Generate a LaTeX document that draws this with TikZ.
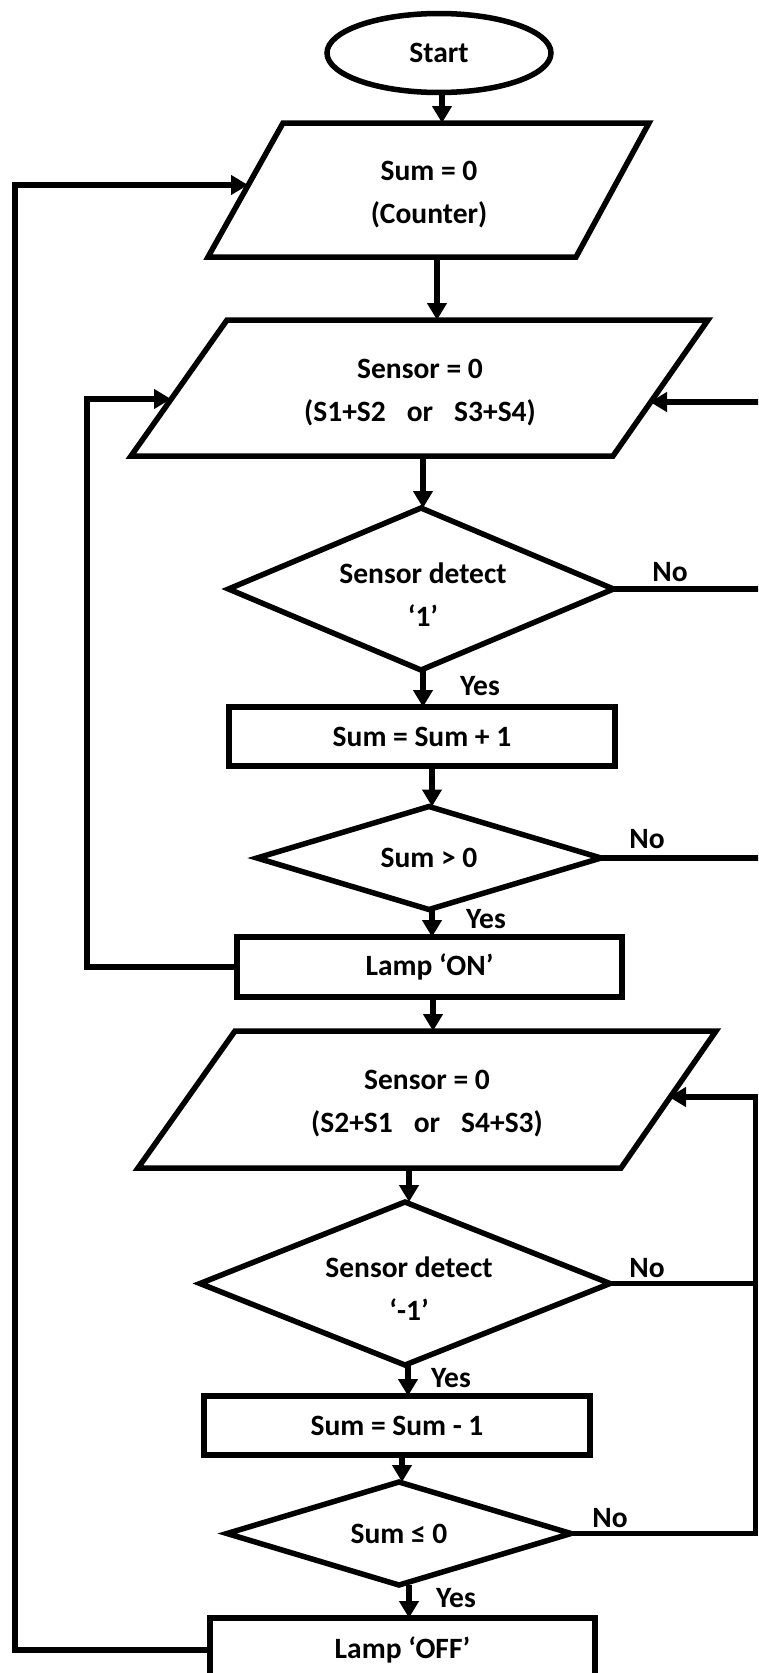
\documentclass[tikz,border=0pt]{standalone}
\usepackage{fontspec}
\setmainfont{Carlito}
\usetikzlibrary{arrows.meta,shapes.geometric,calc}
\begin{document}
\begin{tikzpicture}[x=1pt,y=-1pt,
  every node/.style={font=\fontsize{29.5}{43}\selectfont\bfseries, inner sep=0pt, outer sep=0pt},
  shp/.style={draw, line width=5.5pt, line join=miter},
  box/.style={shp, rectangle},
  dia/.style={shp, diamond},
  term/.style={shp, ellipse},
  para/.style={rectangle, align=center},
  two/.style={align=center},
  arr/.style={line width=5.5pt, -{Triangle[width=19pt,length=17pt]}},
  ln/.style={line width=5.5pt}
]
\useasboundingbox (0,0) rectangle (758,1673);
\fill[white] (0,0) rectangle (758,1673);
\clip (0,0) rectangle (758,1673);

% column / edge coordinates
\coordinate (eL) at (15,0);
\coordinate (iL) at (87,0);
\coordinate (eR) at (760,0);
\coordinate (eR2) at (755.5,0);
\coordinate (c1) at (442,0);
\coordinate (c2) at (437,0);
\coordinate (c3) at (423,0);
\coordinate (c4) at (432,0);
\coordinate (c5) at (433,0);
\coordinate (c6) at (409,0);
\coordinate (c7) at (408,0);
\coordinate (c8) at (402,0);

% nodes
\node[term, minimum width=224pt, minimum height=79pt] (start) at (439,53) {Start};

\node[para, minimum width=441pt, minimum height=134pt] (p1) at (428.5,190) {};
\node[two] (t1) at (429,195) {Sum = 0\\(Counter)};
\draw[shp] (p1.south west) -- ($(p1.south east)+(-73,0)$) -- (p1.north east) -- ($(p1.north west)+(75,0)$) -- cycle;

\node[para, minimum width=577pt, minimum height=136pt] (p2) at (419.5,388) {};
\node[two] (t2) at (420,393) {Sensor = 0\\(S1+S2\hspace{21pt}or\hspace{21pt}S3+S4)};
\draw[shp] (p2.south west) -- ($(p2.south east)+(-95,0)$) -- (p2.north east) -- ($(p2.north west)+(96,0)$) -- cycle;

\node[dia, minimum width=385pt, minimum height=162pt, aspect=2.4] (d1) at (421,589) {};
\node[two] (t3) at (423,595) {Sensor detect\\‘1’};
\node[box, minimum width=386pt, minimum height=59pt] (b1) at (422,736.5) {Sum = Sum + 1};
\node[dia, minimum width=344pt, minimum height=103pt, aspect=3.3] (d2) at (429,858) {Sum > 0};
\node[box, minimum width=385pt, minimum height=60pt] (b2) at (429.5,967) {Lamp ‘ON’};

\node[para, minimum width=578pt, minimum height=137pt] (p3) at (427,1099.5) {};
\node[two] (t4) at (427,1104) {Sensor = 0\\(S2+S1\hspace{21pt}or\hspace{21pt}S4+S3)};
\draw[shp] (p3.south west) -- ($(p3.south east)+(-95,0)$) -- (p3.north east) -- ($(p3.north west)+(97,0)$) -- cycle;

\node[dia, minimum width=410pt, minimum height=163pt, aspect=2.5] (d3) at (405,1283.5) {};
\node[two] (t5) at (409,1289) {Sensor detect\\‘-1’};
\node[box, minimum width=386pt, minimum height=59pt] (b3) at (397,1425.5) {Sum = Sum - 1};
\node[dia, minimum width=344pt, minimum height=103pt, aspect=3.3] (d4) at (399,1533.5) {Sum ≤ 0};
\node[box, minimum width=385pt, minimum height=64pt] (b4) at (402.5,1650) {Lamp ‘OFF’};

% labels
\node (no1) at (670,572) {No};
\node (yes1) at (480,686) {Yes};
\node (no2) at (647,839) {No};
\node (yes2) at (486,919) {Yes};
\node (no3) at (647,1268) {No};
\node (yes3) at (451,1378) {Yes};
\node (no4) at (610,1518) {No};
\node (yes4) at (456,1598) {Yes};

% entry points on slanted sides
\coordinate (p1inL) at ($(p1.west)+(40,-5)$);
\coordinate (p2inL) at ($(p2.west)+(40,11)$);
\coordinate (p2inR) at ($(p2.east)+(-58,14)$);
\coordinate (p3inR) at ($(p3.east)+(-47,-2.5)$);

% main flow
\draw[arr] (start.south -| c1) -- (p1.north -| c1);
\draw[arr] (p1.south -| c2) -- (p2.north -| c2);
\draw[arr] (p2.south -| c3) -- (d1.north -| c3);
\draw[arr] (d1.south -| c3) -- (b1.north -| c3);
\draw[arr] (b1.south -| c4) -- (d2.north -| c4);
\draw[arr] (d2.south -| c4) -- (b2.north -| c4);
\draw[arr] (b2.south -| c5) -- (p3.north -| c5);
\draw[arr] (p3.south -| c6) -- (d3.north -| c6);
\draw[arr] (d3.south -| c7) -- (b3.north -| c7);
\draw[arr] (b3.south -| c8) -- (d4.north -| c8);
\draw[arr] (d4.south -| c6) -- (b4.north -| c6);

% loops
\draw[arr] (b4.west) -- (b4.west -| eL) -- (eL |- p1inL) -- (p1inL);
\draw[arr] (b2.west) -- (b2.west -| iL) -- (iL |- p2inL) -- (p2inL);
\draw[ln] (d1.east) -- (d1.east -| eR);
\draw[arr] (p2inR -| eR) -- (p2inR);
\draw[ln] (d2.east) -- (d2.east -| eR);
\draw[ln] (d3.east) -- (d3.east -| eR2);
\draw[arr] (d4.east) -- (d4.east -| eR2) -- (eR2 |- p3inR) -- (p3inR);
\end{tikzpicture}
\end{document}
